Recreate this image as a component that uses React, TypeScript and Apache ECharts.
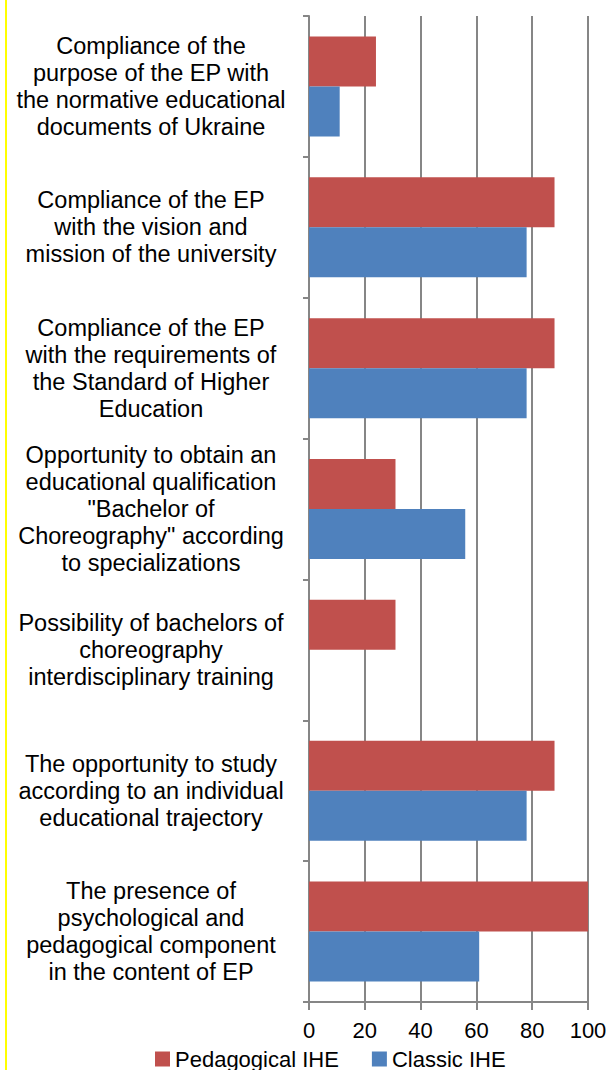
import React, { useEffect, useRef } from "react";
import * as echarts from "echarts";

const categories = [
  "Compliance of the\npurpose of the EP with\nthe normative educational\ndocuments of Ukraine",
  "Compliance of the EP\nwith the vision and\nmission of the university",
  "Compliance of the EP\nwith the requirements of\nthe Standard of Higher\nEducation",
  "Opportunity to obtain an\neducational qualification\n\"Bachelor of\nChoreography\" according\nto specializations",
  "Possibility of bachelors of\nchoreography\ninterdisciplinary training",
  "The opportunity to study\naccording to an individual\neducational trajectory",
  "The presence of\npsychological and\npedagogical component\nin the content of EP",
];
const pedagogical = [24, 88, 88, 31, 31, 88, 100];
const classic = [11, 78, 78, 56, 0, 78, 61];
const xTicks = [0, 20, 40, 60, 80, 100];

export default function App() {
  const ref = useRef<HTMLDivElement>(null);
  useEffect(() => {
    const chart = echarts.init(ref.current!, null, { renderer: "svg" });
    const font = "'Liberation Sans', Arial, sans-serif";
    chart.setOption({
      animation: false,
      backgroundColor: "#ffffff",
      textStyle: { fontFamily: font },
      grid: { left: 309, top: 16, right: 23, bottom: 68, containLabel: false },
      xAxis: {
        type: "value",
        min: xTicks[0],
        max: xTicks[xTicks.length - 1],
        interval: 20,
        axisLine: { show: true, lineStyle: { color: "#868686", width: 2 } },
        axisTick: { show: true, length: 8, lineStyle: { color: "#868686", width: 2 } },
        axisLabel: { fontSize: 22, color: "#000", margin: 17, fontFamily: font },
        splitLine: { show: true, lineStyle: { color: "#868686", width: 2 } },
      },
      yAxis: {
        type: "category",
        data: categories,
        inverse: true,
        axisLine: { show: true, lineStyle: { color: "#868686", width: 2 } },
        axisTick: { show: true, length: 6, lineStyle: { color: "#868686", width: 2 } },
        axisLabel: {
          fontSize: 23.5,
          lineHeight: 27,
          color: "#000",
          align: "center",
          margin: 158,
          fontFamily: font,
          interval: 0,
        },
      },
      legend: {
        top: 1043,
        left: 150,
        itemWidth: 15,
        itemHeight: 15,
        itemGap: 33,
        icon: "rect",
        textStyle: { fontSize: 22, color: "#000", fontFamily: font, padding: [0, 0, 0, 0] },
        data: ["Pedagogical IHE", "Classic IHE"],
      },
      series: [
        {
          name: "Pedagogical IHE",
          type: "bar",
          data: pedagogical,
          itemStyle: { color: "#C0504D" },
          barGap: "0%",
          barCategoryGap: "29%",
        },
        {
          name: "Classic IHE",
          type: "bar",
          data: classic,
          itemStyle: { color: "#4F81BD" },
          barGap: "0%",
          barCategoryGap: "29%",
        },
      ],
      graphic: [
        {
          type: "line",
          shape: { x1: 6, y1: 0, x2: 6, y2: 1070 },
          style: { stroke: "#ffff00", lineWidth: 2 },
        },
      ],
    });
    return () => chart.dispose();
  }, []);
  return (
    <div
      ref={ref}
      style={{ position: "fixed", left: 0, top: 0, width: 611, height: 1070 }}
    />
  );
}
